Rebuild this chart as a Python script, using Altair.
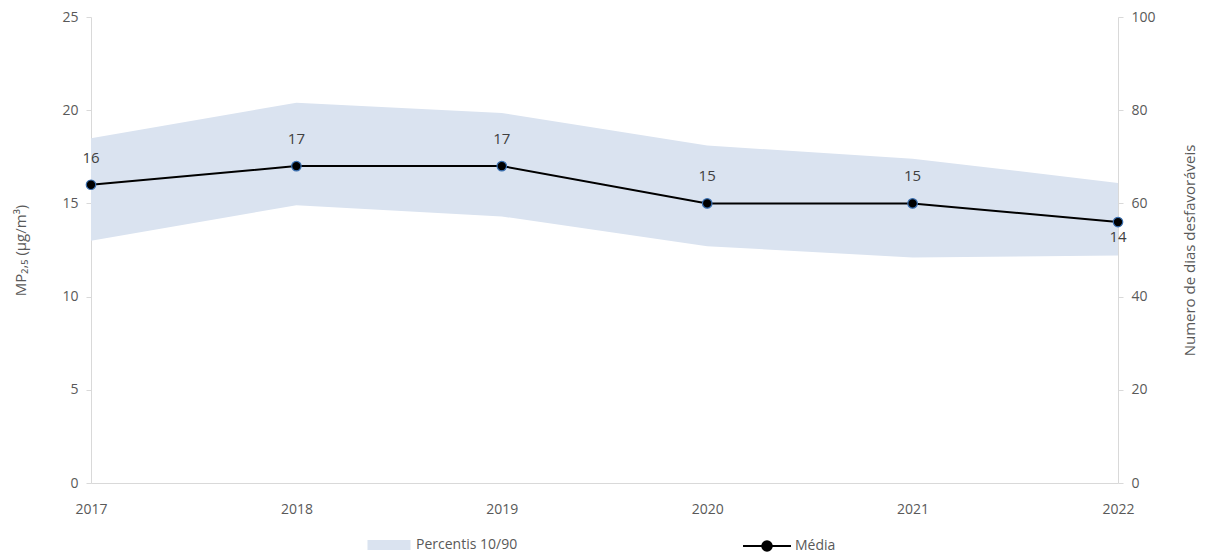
import altair as alt
import pandas as pd

years = [2017, 2018, 2019, 2020, 2021, 2022]
media = [16, 17, 17, 15, 15, 14]
p10 = [13.0, 14.9, 14.3, 12.7, 12.1, 12.2]
p90 = [18.5, 20.4, 19.85, 18.1, 17.4, 16.1]
right_ticks = [0, 20, 40, 60, 80, 100]

df = pd.DataFrame({"ano": years, "media": media, "p10": p10, "p90": p90,
                   "banda": ["Percentis 10/90"] * 6, "serie": ["Média"] * 6})
df_r = pd.DataFrame({"dias": right_ticks})

FONT = "Open Sans"
GRAY = "#595959"

x = alt.X("ano:Q", scale=alt.Scale(domain=[2017, 2022], nice=False), title=None,
          axis=alt.Axis(values=years, format="d", grid=False, domainColor="#d9d9d9",
                        tickColor="#d9d9d9", tickSize=0, labelColor=GRAY, labelFontSize=14,
                        labelFont=FONT, labelPadding=19, labelFlush=False, labelBound=False))
yleft = alt.Scale(domain=[0, 25], nice=False)

band = alt.Chart(df).mark_area(opacity=1).encode(
    x=x,
    y=alt.Y("p10:Q", scale=yleft,
            title="MP₂,₅ (µg/m³)",
            axis=alt.Axis(values=[0, 5, 10, 15, 20, 25], grid=False, domainColor="#d9d9d9",
                          tickColor="#d9d9d9", tickSize=5, labelColor=GRAY, labelFontSize=14,
                          labelFont=FONT, labelPadding=8, titleColor=GRAY, titleFont=FONT,
                          titleFontSize=15, titleFontWeight="normal", titlePadding=33,
                          labelFlush=False)),
    y2="p90:Q",
    fill=alt.Fill("banda:N", scale=alt.Scale(range=["#dae3f0"]),
                  legend=alt.Legend(title=None, orient="none", legendX=276, legendY=506,
                                    symbolType="M-1,-0.23H1V0.23H-1Z", symbolSize=1850,
                                    symbolStrokeWidth=0, labelFont=FONT, labelFontSize=14,
                                    labelColor=GRAY, labelOffset=5)),
)

line = alt.Chart(df).mark_line(color="black", strokeWidth=2).encode(
    x="ano:Q",
    y=alt.Y("media:Q", scale=yleft),
    stroke=alt.Stroke("serie:N", scale=alt.Scale(range=["black"]),
                      legend=alt.Legend(title=None, orient="none", legendX=651, legendY=504,
                                        symbolType="M-1,0H1M-0.2,0A0.2,0.2 0 1,1 0.2,0A0.2,0.2 0 1,1 -0.2,0Z",
                                        symbolSize=2300, symbolFillColor="black",
                                        symbolStrokeColor="black",
                                        symbolStrokeWidth=2, labelFont=FONT, labelFontSize=14,
                                        labelColor=GRAY, labelOffset=3)),
)

pts = alt.Chart(df).mark_point(filled=True, fill="black", stroke="#3a6fb0", strokeWidth=1.2,
                               size=90, opacity=1).encode(
    x="ano:Q", y=alt.Y("media:Q", scale=yleft))

lab_up = alt.Chart(df).transform_filter("datum.ano < 2022").mark_text(
    dy=-27, font=FONT, fontSize=15, color="#404040").encode(
    x="ano:Q", y=alt.Y("media:Q", scale=yleft), text="media:Q")
lab_dn = alt.Chart(df).transform_filter("datum.ano == 2022").mark_text(
    dy=15, font=FONT, fontSize=15, color="#404040").encode(
    x="ano:Q", y=alt.Y("media:Q", scale=yleft), text="media:Q")

left = alt.layer(band, line, pts, lab_up, lab_dn)

right = alt.Chart(df_r).mark_point(opacity=0).encode(
    y=alt.Y("dias:Q", scale=alt.Scale(domain=[0, 100], nice=False),
            title="Numero de dias desfavoráveis",
            axis=alt.Axis(orient="right", values=right_ticks, grid=False, domainColor="#d9d9d9",
                          tickColor="#d9d9d9", tickSize=5, labelColor=GRAY, labelFontSize=14,
                          labelFont=FONT, labelPadding=8, titleColor=GRAY, titleFont=FONT,
                          titleFontSize=15, titleFontWeight="normal", titleAngle=270,
                          titlePadding=42, labelFlush=False)))

chart = alt.layer(left, right).resolve_scale(y="independent", fill="independent",
                                            stroke="independent").properties(
    width=1027, height=466,
    padding={"left": 91, "top": 17, "right": 90, "bottom": 74},
    autosize=alt.AutoSizeParams(type="none"),
).configure_view(stroke=None)

chart.save("out.html", embed_options={"renderer": "svg", "actions": False})
